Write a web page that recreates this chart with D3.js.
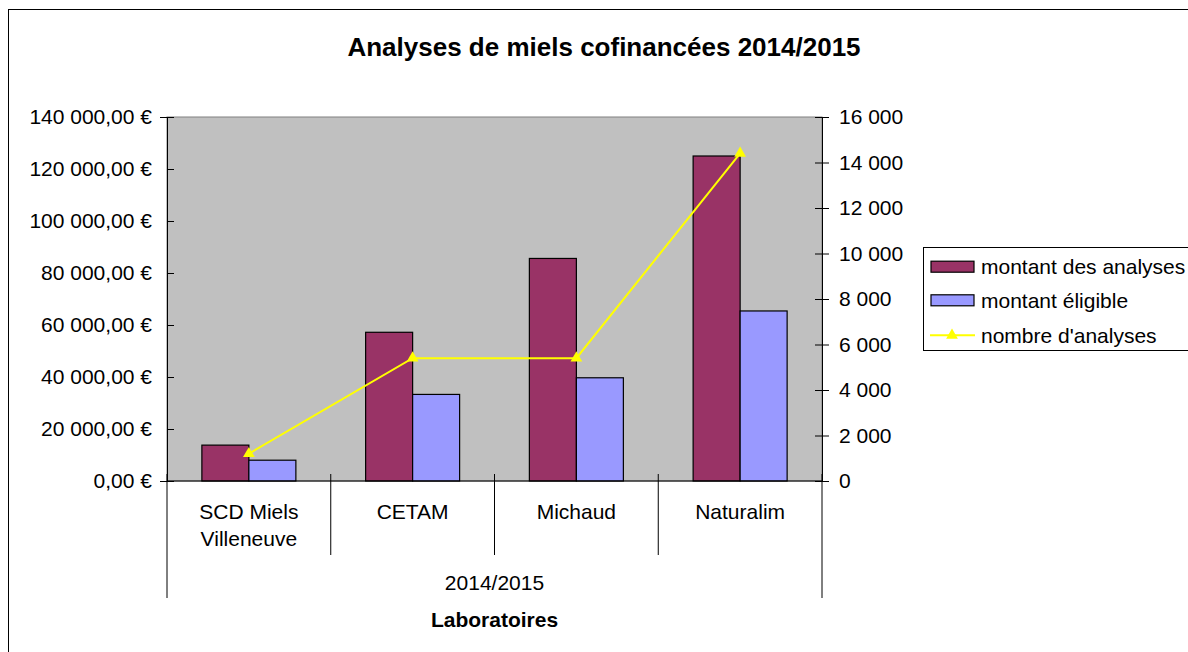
<!DOCTYPE html>
<html>
<head>
<meta charset="utf-8">
<script src="https://cdn.jsdelivr.net/npm/d3@7"></script>
<style>
  body { margin: 0; background: #fff; }
  svg { display: block; font-family: "Liberation Sans", Arial, sans-serif; }
</style>
</head>
<body>
<div id="container"></div>
<script>
// données
const laboratoires = [["SCD Miels", "Villeneuve"], ["CETAM"], ["Michaud"], ["Naturalim"]]
const montantAnalyses = [13800, 57200, 85600, 125000]
const montantEligible = [8000, 33300, 39700, 65400]
const nombreAnalyses = [1200, 5400, 5400, 14400]
const seriesNames = ["montant des analyses", "montant éligible", "nombre d'analyses"]
const periode = "2014/2015"
const titre = "Analyses de miels cofinancées 2014/2015"
const axeTitre = "Laboratoires"

const colors = { analyses: "#993366", eligible: "#9999FF", nombre: "#FFFF00" }

const W = 1188, H = 652
const plot = { left: 167, right: 822, top: 117, bottom: 481 }

const fr = d3.formatLocale({ decimal: ",", thousands: " ", grouping: [3], currency: ["", " €"] })
const fmtEuro = fr.format("$,.2f")
const fmtNum = fr.format(",d")

const svg = d3.select("#container").append("svg")
  .attr("width", W)
  .attr("height", H)

// cadre du graphique
svg.append("rect")
  .attr("x", 8.5).attr("y", 9.5)
  .attr("width", 1300).attr("height", 800)
  .attr("fill", "#fff")
  .attr("stroke", "#000")

// titre
svg.append("text")
  .attr("x", 604).attr("y", 56)
  .attr("text-anchor", "middle")
  .attr("font-size", 26)
  .attr("font-weight", "bold")
  .text(titre)

// échelles
const keys = laboratoires.map(d => d.join(" "))
const x0 = d3.scaleBand()
  .domain(keys)
  .range([plot.left, plot.right])
  .padding(0)

const x1 = d3.scaleBand()
  .domain(["analyses", "eligible"])
  .range([0, x0.bandwidth()])
  .paddingInner(0)
  .paddingOuter(0.742)

const yLeft = d3.scaleLinear().domain([0, 140000]).range([plot.bottom, plot.top])
const yRight = d3.scaleLinear().domain([0, 16000]).range([plot.bottom, plot.top])

// zone de traçage
svg.append("rect")
  .attr("x", plot.left).attr("y", plot.top)
  .attr("width", plot.right - plot.left)
  .attr("height", plot.bottom - plot.top)
  .attr("fill", "#C0C0C0")
  .attr("stroke", "#808080")

// barres
const bars = svg.append("g").attr("id", "bars")
keys.forEach((k, i) => {
  bars.append("rect")
    .attr("x", x0(k) + x1("analyses"))
    .attr("y", yLeft(montantAnalyses[i]))
    .attr("width", x1.bandwidth())
    .attr("height", yLeft(0) - yLeft(montantAnalyses[i]))
    .attr("fill", colors.analyses)
    .attr("stroke", "#000")
    .attr("stroke-width", 1.2)
  bars.append("rect")
    .attr("x", x0(k) + x1("eligible"))
    .attr("y", yLeft(montantEligible[i]))
    .attr("width", x1.bandwidth())
    .attr("height", yLeft(0) - yLeft(montantEligible[i]))
    .attr("fill", colors.eligible)
    .attr("stroke", "#000")
    .attr("stroke-width", 1.2)
})

// axe gauche
const axisL = svg.append("g")
  .attr("transform", `translate(${plot.left},0)`)
  .call(d3.axisLeft(yLeft).ticks(7).tickFormat(fmtEuro).tickSize(7).tickPadding(8))
axisL.select(".domain").attr("stroke", "#000")
axisL.selectAll(".tick line").attr("x2", 7)
axisL.selectAll(".tick text")
  .attr("font-size", 21)
  .attr("fill", "#000")
  .attr("font-family", "Liberation Sans, Arial, sans-serif")

// axe droit
const axisR = svg.append("g")
  .attr("transform", `translate(${plot.right},0)`)
  .call(d3.axisRight(yRight).ticks(8).tickFormat(fmtNum).tickSize(7).tickPadding(10))
axisR.select(".domain").attr("stroke", "#000")
axisR.selectAll(".tick line").attr("x2", 7).attr("x1", -7)
axisR.selectAll(".tick text")
  .attr("font-size", 21)
  .attr("fill", "#000")
  .attr("font-family", "Liberation Sans, Arial, sans-serif")

// ligne de base
svg.append("line")
  .attr("x1", plot.left).attr("x2", plot.right)
  .attr("y1", plot.bottom).attr("y2", plot.bottom)
  .attr("stroke", "#000")

// axe des catégories (deux niveaux)
const catAxis = svg.append("g").attr("id", "catAxis")
const bounds = keys.map(k => x0(k)).concat([plot.right])
bounds.forEach((bx, i) => {
  const outer = i === 0 || i === bounds.length - 1
  catAxis.append("line")
    .attr("x1", bx).attr("x2", bx)
    .attr("y1", plot.bottom - 7)
    .attr("y2", outer ? 598 : 555)
    .attr("stroke", "#000")
})
keys.forEach((k, i) => {
  const t = catAxis.append("text")
    .attr("x", x0(k) + x0.bandwidth() / 2)
    .attr("y", 519)
    .attr("text-anchor", "middle")
    .attr("font-size", 21)
  laboratoires[i].forEach((line, j) => {
    t.append("tspan")
      .attr("x", x0(k) + x0.bandwidth() / 2)
      .attr("dy", j === 0 ? 0 : 26.7)
      .text(line)
  })
})
catAxis.append("text")
  .attr("x", (plot.left + plot.right) / 2)
  .attr("y", 590)
  .attr("text-anchor", "middle")
  .attr("font-size", 21)
  .text(periode)

svg.append("text")
  .attr("x", (plot.left + plot.right) / 2)
  .attr("y", 627)
  .attr("text-anchor", "middle")
  .attr("font-size", 21)
  .attr("font-weight", "bold")
  .text(axeTitre)

// courbe nombre d'analyses (axe secondaire)
const line = d3.line()
  .x((d, i) => x0(keys[i]) + x0.bandwidth() / 2)
  .y(d => yRight(d))
svg.append("path")
  .datum(nombreAnalyses)
  .attr("d", line)
  .attr("fill", "none")
  .attr("stroke", colors.nombre)
  .attr("stroke-width", 2)

const tri = d3.symbol().type(d3.symbolTriangle).size(60)
nombreAnalyses.forEach((d, i) => {
  svg.append("path")
    .attr("d", tri)
    .attr("transform", `translate(${x0(keys[i]) + x0.bandwidth() / 2},${yRight(d)})`)
    .attr("fill", colors.nombre)
})

// légende
const legend = svg.append("g").attr("id", "legend")
legend.append("rect")
  .attr("x", 923.5).attr("y", 247.5)
  .attr("width", 300).attr("height", 103)
  .attr("fill", "#fff")
  .attr("stroke", "#000")

const legendY = [266.7, 300.3, 335.3]
legend.append("rect")
  .attr("x", 931).attr("y", legendY[0] - 5.5)
  .attr("width", 43).attr("height", 11)
  .attr("fill", colors.analyses).attr("stroke", "#000").attr("stroke-width", 1.2)
legend.append("rect")
  .attr("x", 931).attr("y", legendY[1] - 5.5)
  .attr("width", 43).attr("height", 11)
  .attr("fill", colors.eligible).attr("stroke", "#000").attr("stroke-width", 1.2)
legend.append("line")
  .attr("x1", 930).attr("x2", 975)
  .attr("y1", legendY[2]).attr("y2", legendY[2])
  .attr("stroke", colors.nombre).attr("stroke-width", 2)
legend.append("path")
  .attr("d", tri)
  .attr("transform", `translate(952,${legendY[2]})`)
  .attr("fill", colors.nombre)

seriesNames.forEach((s, i) => {
  legend.append("text")
    .attr("x", 981)
    .attr("y", legendY[i])
    .attr("dy", "0.35em")
    .attr("font-size", 21)
    .text(s)
})
</script>
</body>
</html>
